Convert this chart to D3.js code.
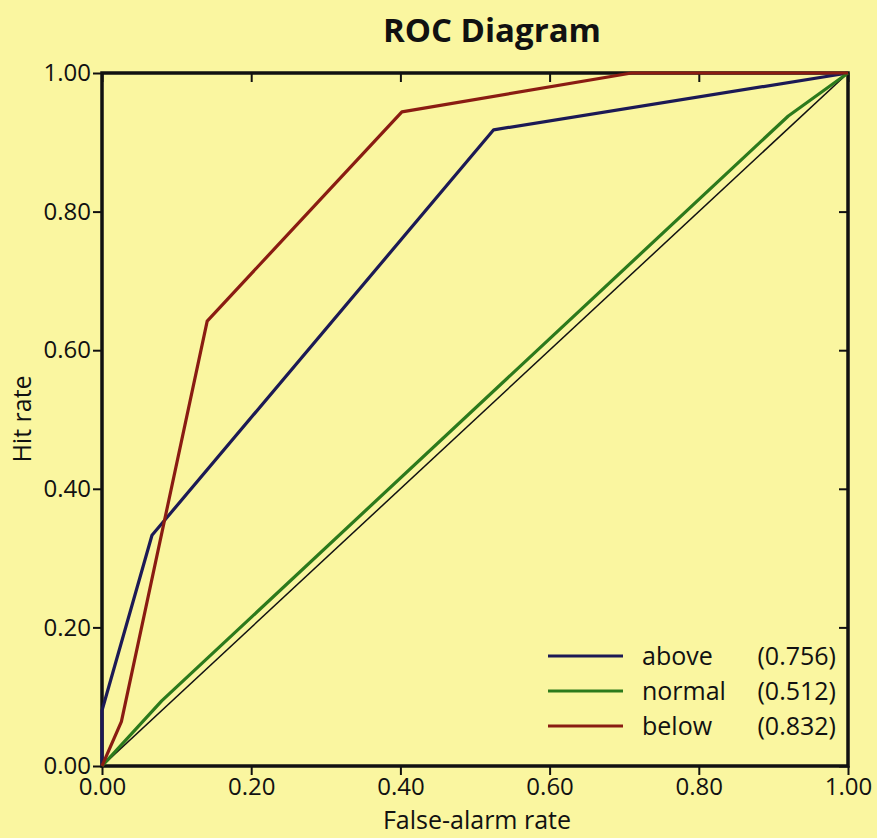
<!DOCTYPE html>
<html>
<head>
<meta charset="utf-8">
<script src="https://cdn.jsdelivr.net/npm/d3@7"></script>
<style>
  body { margin: 0; background: #faf6a0; }
  text { font-family: "Open Sans", "Noto Sans", sans-serif; fill: #111; }
</style>
</head>
<body>
<div id="vis-roc"></div>
<script>
// ROC curve points (false-alarm rate, hit rate) per category
var seriesNames = ["above", "normal", "below"];
var seriesScores = ["(0.756)", "(0.512)", "(0.832)"];
var seriesColors = ["#1c1a55", "#2c7a1c", "#8a1c12"];

var aboveFar = [0, 0, 0.067, 0.525, 1];
var aboveHit = [0, 0.08, 0.333, 0.918, 1];

var normalFar = [0, 0.08, 0.92, 1];
var normalHit = [0, 0.094, 0.938, 1];

var belowFar = [0, 0.026, 0.141, 0.402, 0.71, 1];
var belowHit = [0, 0.064, 0.642, 0.944, 1, 1];

var tickValues = [0, 0.2, 0.4, 0.6, 0.8, 1];

// dimensions
var W = 877, H = 838;
var margin = {top: 73, right: 29, bottom: 72, left: 102},
    width = W - margin.left - margin.right,
    height = H - margin.top - margin.bottom;

var svg = d3.select("#vis-roc").append("svg")
    .attr("width", W)
    .attr("height", H);

svg.append("rect").attr("width", W).attr("height", H).attr("fill", "#faf6a0");

var g = svg.append("g")
    .attr("transform", "translate(" + margin.left + "," + margin.top + ")");

var x = d3.scaleLinear().domain([0, 1]).range([0, width]);
var y = d3.scaleLinear().domain([0, 1]).range([height, 0]);

// title
svg.append("text")
    .attr("x", 492)
    .attr("y", 42)
    .attr("text-anchor", "middle")
    .style("font-size", "33px")
    .style("font-weight", "bold")
    .text("ROC Diagram");

// axes
var fmt = d3.format(".2f");
var xAxis = g.append("g")
    .attr("transform", "translate(0," + height + ")")
    .call(d3.axisBottom(x).tickValues(tickValues).tickFormat(fmt).tickSize(9).tickPadding(3));
var yAxis = g.append("g")
    .call(d3.axisLeft(y).tickValues(tickValues).tickFormat(fmt).tickSize(9).tickPadding(2));
var topAxis = g.append("g")
    .call(d3.axisBottom(x).tickValues(tickValues).tickFormat("").tickSize(9));
var rightAxis = g.append("g")
    .attr("transform", "translate(" + width + ",0)")
    .call(d3.axisLeft(y).tickValues(tickValues).tickFormat("").tickSize(9));

[xAxis, yAxis, topAxis, rightAxis].forEach(function(a) {
  a.select(".domain").remove();
  a.selectAll(".tick line").attr("stroke", "#111").attr("stroke-width", 2);
  a.selectAll(".tick text").style("font-size", "24px").style("font-family", "'Open Sans', sans-serif");
});

// frame
g.append("rect")
    .attr("width", width)
    .attr("height", height)
    .attr("fill", "none")
    .attr("stroke", "#111")
    .attr("stroke-width", 3.5);

// axis labels
svg.append("text")
    .attr("x", 477)
    .attr("y", 829)
    .attr("text-anchor", "middle")
    .style("font-size", "25px")
    .text("False-alarm rate");

svg.append("text")
    .attr("transform", "rotate(-90)")
    .attr("x", -419)
    .attr("y", 31)
    .attr("text-anchor", "middle")
    .style("font-size", "25px")
    .text("Hit rate");

// reference diagonal
g.append("line")
    .attr("x1", x(0)).attr("y1", y(0))
    .attr("x2", x(1)).attr("y2", y(1))
    .attr("stroke", "#111")
    .attr("stroke-width", 1.5);

var line = d3.line()
    .x(function(d) { return x(d[0]); })
    .y(function(d) { return y(d[1]); });

var curves = [
  d3.zip(aboveFar, aboveHit),
  d3.zip(normalFar, normalHit),
  d3.zip(belowFar, belowHit)
];

g.selectAll(".roc")
  .data(curves)
  .enter()
  .append("path")
    .attr("class", "roc")
    .attr("fill", "none")
    .attr("stroke", function(d, i) { return seriesColors[i]; })
    .attr("stroke-width", 3.2)
    .attr("stroke-linejoin", "round")
    .attr("d", line);

// legend
var legend = svg.append("g");
seriesNames.forEach(function(name, i) {
  var ly = 656 + i * 35;
  legend.append("line")
      .attr("x1", 548).attr("x2", 623)
      .attr("y1", ly).attr("y2", ly)
      .attr("stroke", seriesColors[i])
      .attr("stroke-width", 3.2);
  legend.append("text")
      .attr("x", 642).attr("y", ly + 9)
      .style("font-size", "25px")
      .text(name);
  legend.append("text")
      .attr("x", 836).attr("y", ly + 9)
      .attr("text-anchor", "end")
      .style("font-size", "25px")
      .text(seriesScores[i]);
});
</script>
</body>
</html>
